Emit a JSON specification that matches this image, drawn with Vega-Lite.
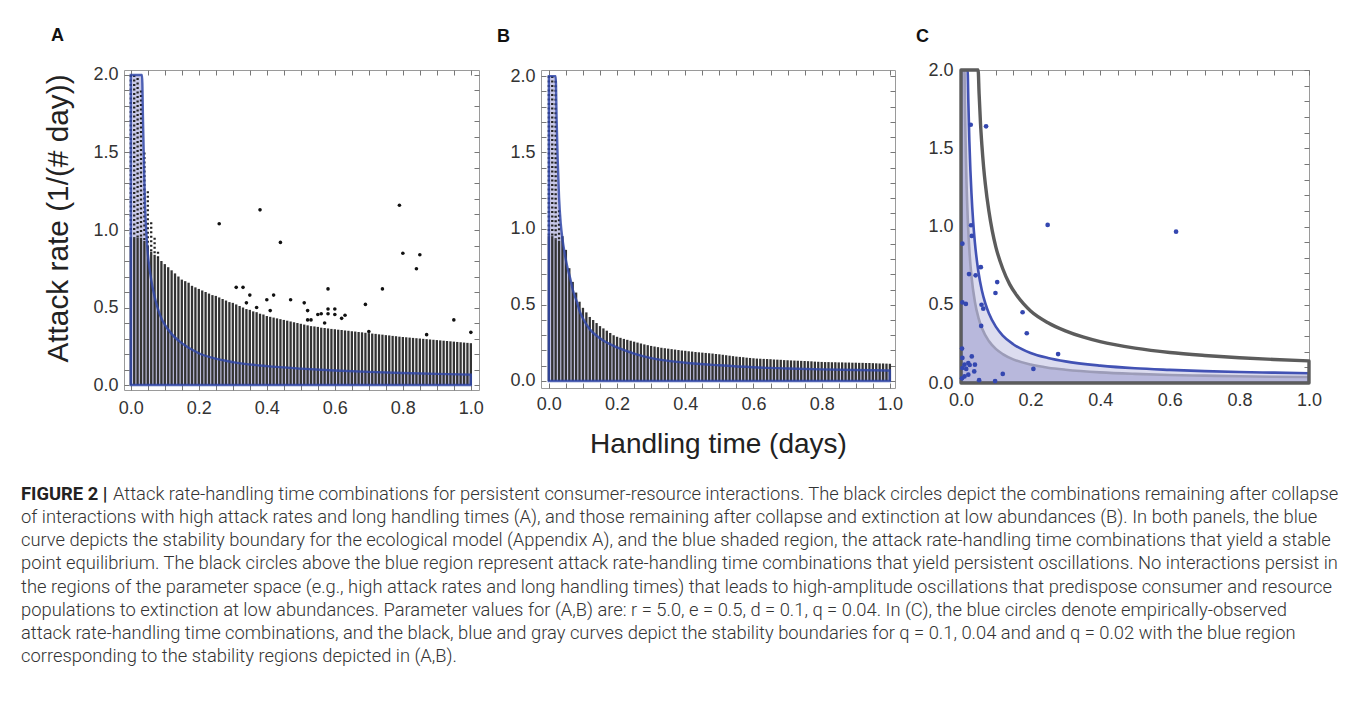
{
  "$schema": "https://vega.github.io/schema/vega-lite/v6.json",
  "background": "white",
  "padding": {"left": 20, "top": 26, "right": 5, "bottom": 5},
  "config": {
    "view": {"stroke": "#9a9a9a", "strokeWidth": 1},
    "font": "Liberation Sans",
    "axis": {
      "labelFont": "Liberation Sans", "labelFontSize": 18, "labelColor": "#333333",
      "tickColor": "#777777", "tickSize": -5, "tickWidth": 1,
      "domain": false, "grid": false, "labelFlush": false, "labelOverlap": false,
      "titleFont": "Liberation Sans", "titleFontWeight": "normal", "titleColor": "#222222"
    },
    "title": {"anchor": "start", "frame": "group", "fontSize": 18, "fontWeight": "bold", "font": "Liberation Sans", "color": "#111111", "baseline": "alphabetic", "offset": 21}
  },
  "datasets": {
    "colsA": [
      {"h":0,"a":0.95},{"h":0.01,"a":0.95},{"h":0.02,"a":0.95},{"h":0.03,"a":0.95},{"h":0.04,"a":0.93},{"h":0.05,"a":0.9},{"h":0.06,"a":0.86},{"h":0.07,"a":0.84},{"h":0.08,"a":0.82},{"h":0.09,"a":0.8},
      {"h":0.1,"a":0.78},{"h":0.11,"a":0.76},{"h":0.12,"a":0.74},{"h":0.13,"a":0.72},{"h":0.14,"a":0.7},{"h":0.15,"a":0.68},{"h":0.16,"a":0.67},{"h":0.17,"a":0.66},{"h":0.18,"a":0.64},{"h":0.19,"a":0.63},
      {"h":0.2,"a":0.62},{"h":0.21,"a":0.61},{"h":0.22,"a":0.6},{"h":0.23,"a":0.59},{"h":0.24,"a":0.58},{"h":0.25,"a":0.575},{"h":0.26,"a":0.565},{"h":0.27,"a":0.555},{"h":0.28,"a":0.545},{"h":0.29,"a":0.535},
      {"h":0.3,"a":0.53},{"h":0.31,"a":0.52},{"h":0.32,"a":0.51},{"h":0.33,"a":0.5},{"h":0.34,"a":0.49},{"h":0.35,"a":0.485},{"h":0.36,"a":0.475},{"h":0.37,"a":0.47},{"h":0.38,"a":0.46},{"h":0.39,"a":0.455},
      {"h":0.4,"a":0.445},{"h":0.41,"a":0.44},{"h":0.42,"a":0.435},{"h":0.43,"a":0.43},{"h":0.44,"a":0.425},{"h":0.45,"a":0.42},{"h":0.46,"a":0.415},{"h":0.47,"a":0.41},{"h":0.48,"a":0.405},{"h":0.49,"a":0.4},
      {"h":0.5,"a":0.395},{"h":0.51,"a":0.39},{"h":0.52,"a":0.385},{"h":0.53,"a":0.38},{"h":0.54,"a":0.378},{"h":0.55,"a":0.375},{"h":0.56,"a":0.37},{"h":0.57,"a":0.368},{"h":0.58,"a":0.365},{"h":0.59,"a":0.362},
      {"h":0.6,"a":0.36},{"h":0.61,"a":0.357},{"h":0.62,"a":0.355},{"h":0.63,"a":0.352},{"h":0.64,"a":0.35},{"h":0.65,"a":0.347},{"h":0.66,"a":0.345},{"h":0.67,"a":0.342},{"h":0.68,"a":0.34},{"h":0.69,"a":0.337},
      {"h":0.7,"a":0.335},{"h":0.71,"a":0.332},{"h":0.72,"a":0.33},{"h":0.73,"a":0.327},{"h":0.74,"a":0.325},{"h":0.75,"a":0.322},{"h":0.76,"a":0.32},{"h":0.77,"a":0.317},{"h":0.78,"a":0.315},{"h":0.79,"a":0.312},
      {"h":0.8,"a":0.31},{"h":0.81,"a":0.308},{"h":0.82,"a":0.306},{"h":0.83,"a":0.304},{"h":0.84,"a":0.302},{"h":0.85,"a":0.3},{"h":0.86,"a":0.298},{"h":0.87,"a":0.296},{"h":0.88,"a":0.294},{"h":0.89,"a":0.292},
      {"h":0.9,"a":0.29},{"h":0.91,"a":0.288},{"h":0.92,"a":0.286},{"h":0.93,"a":0.284},{"h":0.94,"a":0.282},{"h":0.95,"a":0.28},{"h":0.96,"a":0.278},{"h":0.97,"a":0.276},{"h":0.98,"a":0.274},{"h":0.99,"a":0.272},{"h":1,"a":0.27}
    ],
    "sparseA": [
      {"h":0,"lo":0.95,"hi":2.0},{"h":0.01,"lo":0.95,"hi":2.0},{"h":0.02,"lo":0.95,"hi":1.98},{"h":0.03,"lo":0.95,"hi":1.9},{"h":0.04,"lo":0.93,"hi":1.5},
      {"h":0.05,"lo":0.9,"hi":1.25},{"h":0.06,"lo":0.86,"hi":1.05},{"h":0.07,"lo":0.84,"hi":0.95},{"h":0.08,"lo":0.82,"hi":0.86}
    ],
    "colsB": [
      {"h":0,"a":0.95},{"h":0.01,"a":0.95},{"h":0.02,"a":0.93},{"h":0.03,"a":0.92},{"h":0.04,"a":0.95},{"h":0.05,"a":0.86},{"h":0.06,"a":0.74},{"h":0.07,"a":0.65},{"h":0.08,"a":0.58},{"h":0.09,"a":0.52},
      {"h":0.1,"a":0.48},{"h":0.11,"a":0.45},{"h":0.12,"a":0.42},{"h":0.13,"a":0.4},{"h":0.14,"a":0.38},{"h":0.15,"a":0.36},{"h":0.16,"a":0.345},{"h":0.17,"a":0.33},{"h":0.18,"a":0.315},{"h":0.19,"a":0.3},
      {"h":0.2,"a":0.29},{"h":0.21,"a":0.283},{"h":0.22,"a":0.276},{"h":0.23,"a":0.27},{"h":0.24,"a":0.264},{"h":0.25,"a":0.258},{"h":0.26,"a":0.252},{"h":0.27,"a":0.246},{"h":0.28,"a":0.24},{"h":0.29,"a":0.235},
      {"h":0.3,"a":0.23},{"h":0.31,"a":0.226},{"h":0.32,"a":0.222},{"h":0.33,"a":0.218},{"h":0.34,"a":0.215},{"h":0.35,"a":0.212},{"h":0.36,"a":0.209},{"h":0.37,"a":0.206},{"h":0.38,"a":0.203},{"h":0.39,"a":0.2},
      {"h":0.4,"a":0.198},{"h":0.41,"a":0.195},{"h":0.42,"a":0.193},{"h":0.43,"a":0.19},{"h":0.44,"a":0.188},{"h":0.45,"a":0.186},{"h":0.46,"a":0.184},{"h":0.47,"a":0.182},{"h":0.48,"a":0.18},{"h":0.49,"a":0.177},
      {"h":0.5,"a":0.175},{"h":0.51,"a":0.172},{"h":0.52,"a":0.169},{"h":0.53,"a":0.166},{"h":0.54,"a":0.163},{"h":0.55,"a":0.16},{"h":0.56,"a":0.158},{"h":0.57,"a":0.156},{"h":0.58,"a":0.153},{"h":0.59,"a":0.151},
      {"h":0.6,"a":0.149},{"h":0.61,"a":0.147},{"h":0.62,"a":0.146},{"h":0.63,"a":0.145},{"h":0.64,"a":0.144},{"h":0.65,"a":0.143},{"h":0.66,"a":0.141},{"h":0.67,"a":0.14},{"h":0.68,"a":0.139},{"h":0.69,"a":0.137},
      {"h":0.7,"a":0.136},{"h":0.71,"a":0.135},{"h":0.72,"a":0.134},{"h":0.73,"a":0.133},{"h":0.74,"a":0.132},{"h":0.75,"a":0.131},{"h":0.76,"a":0.13},{"h":0.77,"a":0.129},{"h":0.78,"a":0.127},{"h":0.79,"a":0.126},
      {"h":0.8,"a":0.125},{"h":0.81,"a":0.124},{"h":0.82,"a":0.124},{"h":0.83,"a":0.123},{"h":0.84,"a":0.123},{"h":0.85,"a":0.122},{"h":0.86,"a":0.122},{"h":0.87,"a":0.121},{"h":0.88,"a":0.121},{"h":0.89,"a":0.12},
      {"h":0.9,"a":0.12},{"h":0.91,"a":0.119},{"h":0.92,"a":0.119},{"h":0.93,"a":0.118},{"h":0.94,"a":0.118},{"h":0.95,"a":0.117},{"h":0.96,"a":0.116},{"h":0.97,"a":0.115},{"h":0.98,"a":0.115},{"h":0.99,"a":0.114},{"h":1,"a":0.113}
    ],
    "sparseB": [
      {"h":0,"lo":0.95,"hi":2.0},{"h":0.01,"lo":0.95,"hi":2.0},{"h":0.02,"lo":0.93,"hi":1.97},{"h":0.03,"lo":0.92,"hi":1.12}
    ],
    "curveA": [
      {"h":0,"a":2.0},{"h":0.033,"a":2.0},{"h":0.036,"a":1.7},{"h":0.039,"a":1.4},{"h":0.042,"a":1.15},{"h":0.046,"a":0.97},{"h":0.05,"a":0.85},
      {"h":0.06,"a":0.68},{"h":0.07,"a":0.57},{"h":0.08,"a":0.49},{"h":0.09,"a":0.43},{"h":0.1,"a":0.39},{"h":0.12,"a":0.33},{"h":0.15,"a":0.27},
      {"h":0.2,"a":0.205},{"h":0.25,"a":0.17},{"h":0.3,"a":0.148},{"h":0.4,"a":0.122},{"h":0.5,"a":0.106},{"h":0.6,"a":0.094},{"h":0.7,"a":0.085},
      {"h":0.8,"a":0.078},{"h":0.9,"a":0.072},{"h":1,"a":0.067}
    ],
    "curveB": [
      {"h":0,"a":2.0},{"h":0.02,"a":2.0},{"h":0.023,"a":1.7},{"h":0.026,"a":1.45},{"h":0.03,"a":1.2},{"h":0.035,"a":1.03},{"h":0.04,"a":0.93},
      {"h":0.047,"a":0.83},{"h":0.055,"a":0.74},{"h":0.063,"a":0.67},{"h":0.07,"a":0.6},{"h":0.082,"a":0.52},{"h":0.09,"a":0.46},{"h":0.1,"a":0.41},
      {"h":0.12,"a":0.34},{"h":0.15,"a":0.28},{"h":0.2,"a":0.22},{"h":0.25,"a":0.18},{"h":0.3,"a":0.15},{"h":0.4,"a":0.12},{"h":0.5,"a":0.103},
      {"h":0.6,"a":0.09},{"h":0.7,"a":0.082},{"h":0.8,"a":0.076},{"h":0.9,"a":0.072},{"h":1,"a":0.069}
    ],
    "blueC": [
      {"h":0,"a":2.0},{"h":0.019,"a":2.0},{"h":0.021,"a":1.81},{"h":0.024,"a":1.55},{"h":0.027,"a":1.36},{"h":0.03,"a":1.215},{"h":0.035,"a":1.03},
      {"h":0.04,"a":0.895},{"h":0.05,"a":0.711},{"h":0.06,"a":0.591},{"h":0.07,"a":0.508},{"h":0.08,"a":0.446},{"h":0.1,"a":0.36},{"h":0.12,"a":0.303},
      {"h":0.15,"a":0.248},{"h":0.2,"a":0.192},{"h":0.25,"a":0.16},{"h":0.3,"a":0.138},{"h":0.4,"a":0.111},{"h":0.5,"a":0.094},{"h":0.6,"a":0.084},
      {"h":0.7,"a":0.076},{"h":0.8,"a":0.07},{"h":0.9,"a":0.066},{"h":1,"a":0.062}
    ],
    "grayC": [
      {"h":0,"a":2.0},{"h":0.0101,"a":2.0},{"h":0.011,"a":1.836},{"h":0.012,"a":1.685},{"h":0.014,"a":1.447},{"h":0.016,"a":1.268},{"h":0.02,"a":1.018},
      {"h":0.025,"a":0.818},{"h":0.03,"a":0.685},{"h":0.04,"a":0.518},{"h":0.05,"a":0.418},{"h":0.06,"a":0.351},{"h":0.08,"a":0.268},{"h":0.1,"a":0.218},
      {"h":0.12,"a":0.185},{"h":0.15,"a":0.151},{"h":0.2,"a":0.118},{"h":0.25,"a":0.098},{"h":0.3,"a":0.085},{"h":0.4,"a":0.068},{"h":0.5,"a":0.058},
      {"h":0.6,"a":0.051},{"h":0.7,"a":0.047},{"h":0.8,"a":0.043},{"h":0.9,"a":0.04},{"h":1,"a":0.038}
    ],
    "darkC": [
      {"h":0,"a":2.0},{"h":0.0492,"a":2.0},{"h":0.052,"a":1.85},{"h":0.056,"a":1.66},{"h":0.06,"a":1.52},{"h":0.065,"a":1.38},{"h":0.07,"a":1.27},
      {"h":0.08,"a":1.1},{"h":0.09,"a":0.97},{"h":0.1,"a":0.87},{"h":0.12,"a":0.73},{"h":0.14,"a":0.63},{"h":0.16,"a":0.56},{"h":0.18,"a":0.505},
      {"h":0.2,"a":0.46},{"h":0.25,"a":0.385},{"h":0.3,"a":0.333},{"h":0.35,"a":0.294},{"h":0.4,"a":0.264},{"h":0.5,"a":0.223},{"h":0.6,"a":0.195},
      {"h":0.7,"a":0.176},{"h":0.8,"a":0.161},{"h":0.9,"a":0.15},{"h":1,"a":0.141}
    ],
    "ptsA": [
      {"h":0.26,"a":1.04},{"h":0.38,"a":1.13},{"h":0.44,"a":0.92},{"h":0.31,"a":0.63},{"h":0.33,"a":0.63},{"h":0.35,"a":0.58},{"h":0.34,"a":0.53},
      {"h":0.37,"a":0.5},{"h":0.4,"a":0.55},{"h":0.41,"a":0.48},{"h":0.42,"a":0.58},{"h":0.47,"a":0.55},{"h":0.51,"a":0.53},{"h":0.52,"a":0.48},
      {"h":0.52,"a":0.42},{"h":0.53,"a":0.42},{"h":0.55,"a":0.455},{"h":0.56,"a":0.46},{"h":0.57,"a":0.4},{"h":0.58,"a":0.62},{"h":0.58,"a":0.49},
      {"h":0.58,"a":0.46},{"h":0.6,"a":0.49},{"h":0.6,"a":0.455},{"h":0.62,"a":0.43},{"h":0.63,"a":0.45},{"h":0.69,"a":0.52},{"h":0.7,"a":0.345},
      {"h":0.74,"a":0.62},{"h":0.79,"a":1.16},{"h":0.8,"a":0.85},{"h":0.85,"a":0.84},{"h":0.84,"a":0.75},{"h":0.87,"a":0.325},{"h":0.95,"a":0.42},{"h":1.0,"a":0.34}
    ],
    "ptsC": [
      {"h":0.028,"a":1.65},{"h":0.072,"a":1.64},{"h":0.249,"a":1.01},{"h":0.618,"a":0.967},{"h":0.029,"a":1.008},{"h":0.031,"a":0.94},{"h":0.004,"a":0.89},
      {"h":0.023,"a":0.696},{"h":0.042,"a":0.688},{"h":0.057,"a":0.74},{"h":0.104,"a":0.645},{"h":0.099,"a":0.575},{"h":0.059,"a":0.5},{"h":0.064,"a":0.475},
      {"h":0.014,"a":0.505},{"h":0.004,"a":0.515},{"h":0.177,"a":0.452},{"h":0.189,"a":0.318},{"h":0.279,"a":0.185},{"h":0.058,"a":0.365},{"h":0.208,"a":0.09},
      {"h":0.12,"a":0.058},{"h":0.098,"a":0.012},{"h":0.052,"a":0.018},{"h":0.003,"a":0.22},{"h":0.031,"a":0.17},{"h":0.021,"a":0.127},{"h":0.01,"a":0.117},
      {"h":0.004,"a":0.096},{"h":0.04,"a":0.117},{"h":0.038,"a":0.074},{"h":0.021,"a":0.053},{"h":0.01,"a":0.042},{"h":0.004,"a":0.16},{"h":0.015,"a":0.09},
      {"h":0.003,"a":0.03},{"h":0.025,"a":0.115}
    ],
    "caption": [
      {"line":1,"lead":"FIGURE 2 |","text":"Attack rate-handling time combinations for persistent consumer-resource interactions. The black circles depict the combinations remaining after collapse"},
      {"line":2,"lead":"","text":"of interactions with high attack rates and long handling times (A), and those remaining after collapse and extinction at low abundances (B). In both panels, the blue"},
      {"line":3,"lead":"","text":"curve depicts the stability boundary for the ecological model (Appendix A), and the blue shaded region, the attack rate-handling time combinations that yield a stable"},
      {"line":4,"lead":"","text":"point equilibrium. The black circles above the blue region represent attack rate-handling time combinations that yield persistent oscillations. No interactions persist in"},
      {"line":5,"lead":"","text":"the regions of the parameter space (e.g., high attack rates and long handling times) that leads to high-amplitude oscillations that predispose consumer and resource"},
      {"line":6,"lead":"","text":"populations to extinction at low abundances. Parameter values for (A,B) are: r = 5.0, e = 0.5, d = 0.1, q = 0.04. In (C), the blue circles denote empirically-observed"},
      {"line":7,"lead":"","text":"attack rate-handling time combinations, and the black, blue and gray curves depict the stability boundaries for q = 0.1, 0.04 and and q = 0.02 with the blue region"},
      {"line":8,"lead":"","text":"corresponding to the stability regions depicted in (A,B)."}
    ]
  },
  "spacing": 23,
  "vconcat": [
    {
      "spacing": 12,
      "hconcat": [
        {
          "width": 355, "height": 320,
          "title": {"text": "A", "dx": -73},
          "resolve": {"axis": {"x": "independent", "y": "independent"}},
          "layer": [
            {
              "data": {"name": "curveA"},
              "mark": {"type": "area", "fill": "#c8c8e8", "interpolate": "monotone", "clip": true},
              "encoding": {
                "x": {"field": "h", "type": "quantitative", "scale": {"domain": [-0.02, 1.024], "nice": false, "zero": false},
                      "axis": {"orient": "bottom", "values": [0,0.05,0.1,0.15,0.2,0.25,0.3,0.35,0.4,0.45,0.5,0.55,0.6,0.65,0.7,0.75,0.8,0.85,0.9,0.95,1], "labelExpr": "round(datum.value*100) % 20 === 0 ? format(datum.value, '.1f') : ''", "labelPadding": 14, "title": null}},
                "y": {"field": "a", "type": "quantitative", "scale": {"domain": [-0.032, 2.032], "nice": false, "zero": false},
                      "axis": {"orient": "left", "values": [0,0.1,0.2,0.3,0.4,0.5,0.6,0.7,0.8,0.9,1,1.1,1.2,1.3,1.4,1.5,1.6,1.7,1.8,1.9,2], "labelExpr": "round(datum.value*10) % 5 === 0 ? format(datum.value, '.1f') : ''", "labelPadding": 11, "title": "Attack rate (1/(# day))", "titleFontSize": 29.8, "titlePadding": 19, "titleY": 148}},
                "y2": {"datum": 0}
              }
            },
            {
              "data": {"name": "colsA"},
              "mark": {"type": "rule", "color": "#333333", "strokeWidth": 2.3, "clip": true},
              "encoding": {
                "x": {"field": "h", "type": "quantitative", "axis": {"orient": "top", "values": [0,0.05,0.1,0.15,0.2,0.25,0.3,0.35,0.4,0.45,0.5,0.55,0.6,0.65,0.7,0.75,0.8,0.85,0.9,0.95,1], "labels": false, "title": null}},
                "y": {"field": "a", "type": "quantitative", "axis": {"orient": "right", "values": [0,0.1,0.2,0.3,0.4,0.5,0.6,0.7,0.8,0.9,1,1.1,1.2,1.3,1.4,1.5,1.6,1.7,1.8,1.9,2], "labels": false, "title": null}},
                "y2": {"datum": 0}
              }
            },
            {
              "data": {"name": "sparseA"},
              "mark": {"type": "rule", "color": "#222222", "strokeWidth": 2.3, "strokeDash": [2, 2.5], "clip": true},
              "encoding": {
                "x": {"field": "h", "type": "quantitative", "axis": null},
                "y": {"field": "hi", "type": "quantitative", "axis": null},
                "y2": {"field": "lo"}
              }
            },
            {
              "data": {"name": "curveA"},
              "mark": {"type": "area", "fillOpacity": 0, "stroke": "#3148a8", "strokeWidth": 2.4, "strokeOpacity": 0.85, "interpolate": "monotone", "clip": true},
              "encoding": {
                "x": {"field": "h", "type": "quantitative", "axis": null},
                "y": {"field": "a", "type": "quantitative", "axis": null},
                "y2": {"datum": 0}
              }
            },
            {
              "data": {"name": "ptsA"},
              "mark": {"type": "circle", "color": "#111111", "size": 13, "opacity": 1},
              "encoding": {
                "x": {"field": "h", "type": "quantitative", "axis": null},
                "y": {"field": "a", "type": "quantitative", "axis": null}
              }
            }
          ]
        },
        {
          "width": 354, "height": 318,
          "title": {"text": "B", "dx": -44},
          "resolve": {"axis": {"x": "independent", "y": "independent"}},
          "layer": [
            {
              "data": {"name": "curveB"},
              "mark": {"type": "area", "fill": "#c8c8e8", "interpolate": "monotone", "clip": true},
              "encoding": {
                "x": {"field": "h", "type": "quantitative", "scale": {"domain": [-0.023, 1.015], "nice": false, "zero": false},
                      "axis": {"orient": "bottom", "values": [0,0.05,0.1,0.15,0.2,0.25,0.3,0.35,0.4,0.45,0.5,0.55,0.6,0.65,0.7,0.75,0.8,0.85,0.9,0.95,1], "labelExpr": "round(datum.value*100) % 20 === 0 ? format(datum.value, '.1f') : ''", "labelPadding": 12, "title": "Handling time (days)", "titleFontSize": 28, "titlePadding": 17}},
                "y": {"field": "a", "type": "quantitative", "scale": {"domain": [-0.046, 2.04], "nice": false, "zero": false},
                      "axis": {"orient": "left", "values": [0,0.1,0.2,0.3,0.4,0.5,0.6,0.7,0.8,0.9,1,1.1,1.2,1.3,1.4,1.5,1.6,1.7,1.8,1.9,2], "labelExpr": "round(datum.value*10) % 5 === 0 ? format(datum.value, '.1f') : ''", "labelPadding": 11, "title": null}},
                "y2": {"datum": 0}
              }
            },
            {
              "data": {"name": "colsB"},
              "mark": {"type": "rule", "color": "#333333", "strokeWidth": 2.3, "clip": true},
              "encoding": {
                "x": {"field": "h", "type": "quantitative", "axis": {"orient": "top", "values": [0,0.05,0.1,0.15,0.2,0.25,0.3,0.35,0.4,0.45,0.5,0.55,0.6,0.65,0.7,0.75,0.8,0.85,0.9,0.95,1], "labels": false, "title": null}},
                "y": {"field": "a", "type": "quantitative", "axis": {"orient": "right", "values": [0,0.1,0.2,0.3,0.4,0.5,0.6,0.7,0.8,0.9,1,1.1,1.2,1.3,1.4,1.5,1.6,1.7,1.8,1.9,2], "labels": false, "title": null}},
                "y2": {"datum": 0}
              }
            },
            {
              "data": {"name": "sparseB"},
              "mark": {"type": "rule", "color": "#222222", "strokeWidth": 2.3, "strokeDash": [2, 2.5], "clip": true},
              "encoding": {
                "x": {"field": "h", "type": "quantitative", "axis": null},
                "y": {"field": "hi", "type": "quantitative", "axis": null},
                "y2": {"field": "lo"}
              }
            },
            {
              "data": {"name": "curveB"},
              "mark": {"type": "area", "fillOpacity": 0, "stroke": "#3148a8", "strokeWidth": 2.4, "strokeOpacity": 0.85, "interpolate": "monotone", "clip": true},
              "encoding": {
                "x": {"field": "h", "type": "quantitative", "axis": null},
                "y": {"field": "a", "type": "quantitative", "axis": null},
                "y2": {"datum": 0}
              }
            }
          ]
        },
        {
          "width": 348, "height": 313,
          "title": {"text": "C", "dx": -45, "offset": 15},
          "resolve": {"axis": {"x": "independent", "y": "independent"}},
          "layer": [
            {
              "data": {"name": "blueC"},
              "mark": {"type": "area", "fill": "#dcdcef", "interpolate": "monotone", "clip": true},
              "encoding": {
                "x": {"field": "h", "type": "quantitative", "scale": {"domain": [0, 1], "nice": false, "zero": false},
                      "axis": {"orient": "bottom", "values": [0,0.05,0.1,0.15,0.2,0.25,0.3,0.35,0.4,0.45,0.5,0.55,0.6,0.65,0.7,0.75,0.8,0.85,0.9,0.95,1], "labelExpr": "round(datum.value*100) % 20 === 0 ? format(datum.value, '.1f') : ''", "labelPadding": 13, "title": null}},
                "y": {"field": "a", "type": "quantitative", "scale": {"domain": [0, 2], "nice": false, "zero": false},
                      "axis": {"orient": "left", "values": [0,0.1,0.2,0.3,0.4,0.5,0.6,0.7,0.8,0.9,1,1.1,1.2,1.3,1.4,1.5,1.6,1.7,1.8,1.9,2], "labelExpr": "round(datum.value*10) % 5 === 0 ? format(datum.value, '.1f') : ''", "labelPadding": 13, "title": null}},
                "y2": {"datum": 0}
              }
            },
            {
              "data": {"name": "grayC"},
              "mark": {"type": "area", "fill": "#b8b8dc", "interpolate": "monotone", "clip": true},
              "encoding": {
                "x": {"field": "h", "type": "quantitative", "axis": {"orient": "top", "values": [0,0.05,0.1,0.15,0.2,0.25,0.3,0.35,0.4,0.45,0.5,0.55,0.6,0.65,0.7,0.75,0.8,0.85,0.9,0.95,1], "labels": false, "title": null}},
                "y": {"field": "a", "type": "quantitative", "axis": {"orient": "right", "values": [0,0.1,0.2,0.3,0.4,0.5,0.6,0.7,0.8,0.9,1,1.1,1.2,1.3,1.4,1.5,1.6,1.7,1.8,1.9,2], "labels": false, "title": null}},
                "y2": {"datum": 0}
              }
            },
            {
              "data": {"name": "grayC"},
              "mark": {"type": "area", "fillOpacity": 0, "stroke": "#9c9cb8", "strokeWidth": 2.6, "interpolate": "monotone", "clip": true},
              "encoding": {
                "x": {"field": "h", "type": "quantitative", "axis": null},
                "y": {"field": "a", "type": "quantitative", "axis": null},
                "y2": {"datum": 0}
              }
            },
            {
              "data": {"name": "blueC"},
              "mark": {"type": "area", "fillOpacity": 0, "stroke": "#4252b4", "strokeWidth": 2.6, "interpolate": "monotone", "clip": true},
              "encoding": {
                "x": {"field": "h", "type": "quantitative", "axis": null},
                "y": {"field": "a", "type": "quantitative", "axis": null},
                "y2": {"datum": 0}
              }
            },
            {
              "data": {"name": "darkC"},
              "mark": {"type": "area", "fillOpacity": 0, "stroke": "#5c5c5c", "strokeWidth": 3.4, "strokeJoin": "round", "interpolate": "monotone", "clip": false},
              "encoding": {
                "x": {"field": "h", "type": "quantitative", "axis": null},
                "y": {"field": "a", "type": "quantitative", "axis": null},
                "y2": {"datum": 0}
              }
            },
            {
              "data": {"name": "ptsC"},
              "mark": {"type": "circle", "color": "#3447b0", "size": 22, "opacity": 1},
              "encoding": {
                "x": {"field": "h", "type": "quantitative", "axis": null},
                "y": {"field": "a", "type": "quantitative", "axis": null}
              }
            }
          ]
        }
      ]
    },
    {
      "width": 1200, "height": 186,
      "view": {"stroke": null},
      "data": {"name": "caption"},
      "layer": [
        {
          "mark": {"type": "text", "align": "left", "baseline": "middle", "font": "Roboto", "fontSize": 18.35, "fontWeight": "bold", "color": "#222222"},
          "encoding": {
            "x": {"datum": 0, "type": "quantitative", "scale": {"domain": [0.07905, 1], "nice": false, "zero": false}, "axis": null},
            "y": {"field": "line", "type": "ordinal", "axis": null, "scale": {"paddingOuter": 0.5}},
            "text": {"field": "lead"}
          }
        },
        {
          "transform": [{"filter": "datum.line === 1"}],
          "mark": {"type": "text", "align": "left", "baseline": "middle", "font": "Roboto", "fontSize": 18.35, "fontWeight": 300, "color": "#333333", "dx": 92},
          "encoding": {
            "x": {"datum": 0, "type": "quantitative", "axis": null},
            "y": {"field": "line", "type": "ordinal", "axis": null},
            "text": {"field": "text"}
          }
        },
        {
          "transform": [{"filter": "datum.line > 1"}],
          "mark": {"type": "text", "align": "left", "baseline": "middle", "font": "Roboto", "fontSize": 18.35, "fontWeight": 300, "color": "#333333"},
          "encoding": {
            "x": {"datum": 0, "type": "quantitative", "axis": null},
            "y": {"field": "line", "type": "ordinal", "axis": null},
            "text": {"field": "text"}
          }
        }
      ]
    }
  ]
}
